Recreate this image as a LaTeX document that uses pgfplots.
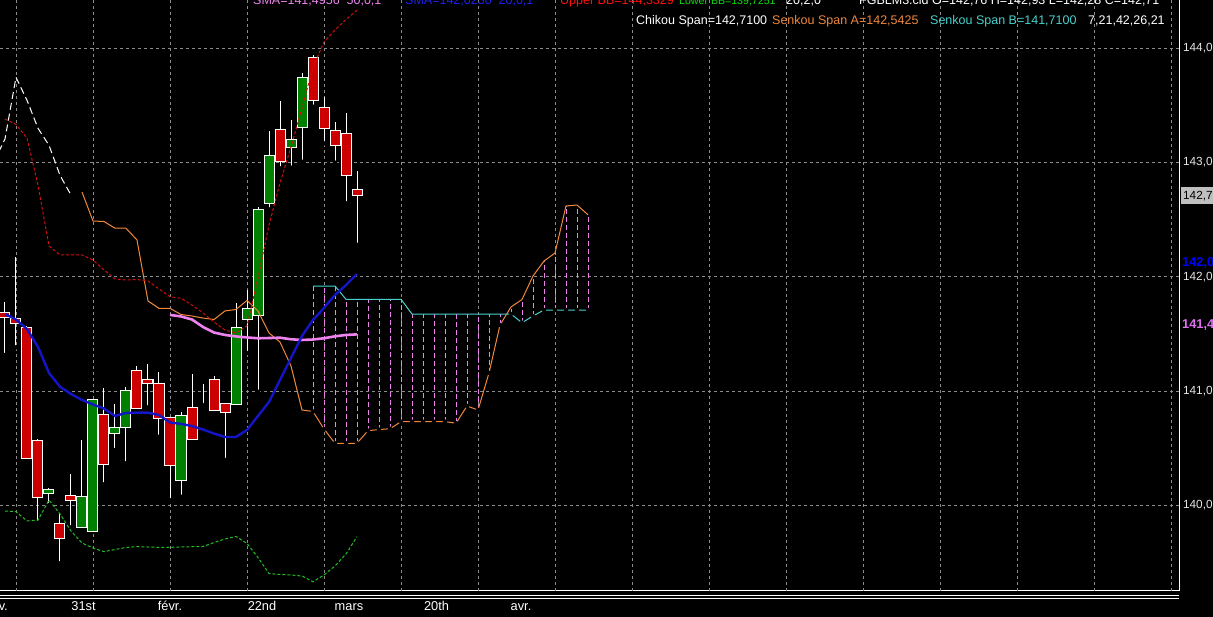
\documentclass[border=0pt]{standalone}
\usepackage{fontspec}
\setmainfont{Liberation Sans}
\usepackage{pgfplots}
\usepackage{pgfplotstable}
\pgfplotsset{compat=1.18}

\definecolor{cred}{HTML}{CC0000}
\definecolor{cgreen}{HTML}{008000}
\definecolor{smablue}{HTML}{1414C8}
\definecolor{smaviolet}{HTML}{EE82EE}
\definecolor{bbred}{HTML}{D01010}
\definecolor{bbgreen}{HTML}{20C020}
\definecolor{spana}{HTML}{F0883C}
\definecolor{spanb}{HTML}{48D1CC}
\definecolor{gridgray}{HTML}{8C8C8C}
\definecolor{ticktext}{HTML}{E6E6E6}
\definecolor{txtblue}{HTML}{2020F0}
\definecolor{txtred}{HTML}{FF1010}
\definecolor{txtgreen}{HTML}{10E010}
\definecolor{flagviolet}{HTML}{E070F0}

% daily candles, index 0..32
\pgfplotstableread{
i o h l c
0 141.686 141.782 141.316 141.642
1 141.631 142.176 141.383 141.587
2 141.558 141.565 140.405 140.411
3 140.565 140.580 139.848 140.070
4 140.105 140.149 140.003 140.134
5 139.842 139.921 139.492 139.711
6 140.084 140.274 139.807 140.038
7 139.807 140.572 139.807 140.075
8 139.769 140.930 139.769 140.928
9 140.797 141.029 140.184 140.359
10 140.630 140.887 140.484 140.679
11 140.683 141.038 140.368 141.009
12 141.184 141.219 140.849 140.849
13 141.097 141.237 140.858 141.068
14 141.068 141.169 140.600 140.761
15 140.770 140.770 140.046 140.344
16 140.215 140.819 140.075 140.790
17 140.858 141.147 140.557 140.578
18 140.928 141.062 140.878 140.928
19 141.097 141.132 140.819 140.834
20 140.893 140.893 140.397 140.814
21 140.884 141.768 140.884 141.554
22 141.622 141.884 141.333 141.724
23 141.660 142.614 140.994 142.585
24 142.643 143.279 142.591 143.066
25 143.285 143.539 142.950 143.007
26 143.133 143.372 142.955 143.206
27 143.309 143.786 143.007 143.746
28 143.921 143.941 143.489 143.545
29 143.484 143.571 143.168 143.300
30 143.282 143.358 142.999 143.151
31 143.256 143.436 142.643 142.888
32 142.760 142.930 142.280 142.710
}\candles

% SMA 20 and Bollinger bands
\pgfplotstableread{
i sma ub lb
0 141.674 143.381 139.950
1 141.626 143.333 139.944
2 141.543 143.215 139.863
3 141.386 142.803 139.871
4 141.158 142.270 140.046
5 141.038 142.191 139.924
6 140.974 142.191 139.775
7 140.922 142.191 139.670
8 140.882 142.147 139.626
9 140.847 142.060 139.594
10 140.782 141.981 139.613
11 140.808 141.972 139.631
12 140.811 141.976 139.638
13 140.811 141.963 139.635
14 140.790 141.893 139.632
15 140.725 141.826 139.632
16 140.712 141.812 139.635
17 140.694 141.753 139.638
18 140.663 141.683 139.639
19 140.628 141.604 139.674
20 140.598 141.534 139.705
21 140.598 141.508 139.727
22 140.659 141.571 139.666
23 140.782 141.990 139.543
24 140.904 142.453 139.403
25 141.097 142.821 139.394
26 141.289 143.136 139.390
27 141.482 143.477 139.381
28 141.622 143.836 139.331
29 141.727 144.055 139.390
30 141.841 144.160 139.469
31 141.928 144.252 139.574
32 142.024 144.333 139.725
}\ind

\pgfplotstableread{
i sma
15 141.666
16 141.653
17 141.626
18 141.561
19 141.512
20 141.491
21 141.478
22 141.469
23 141.462
24 141.464
25 141.467
26 141.453
27 141.447
28 141.451
29 141.462
30 141.479
31 141.491
32 141.496
}\smafifty

% senkou span A before the cloud
\pgfplotstableread{
i a
7 142.742
8 142.488
9 142.484
10 142.425
11 142.425
12 142.322
13 141.788
14 141.724
15 141.724
16 141.670
17 141.657
18 141.639
19 141.626
20 141.701
21 141.714
22 141.793
23 141.701
24 141.508
25 141.429
26 141.219
27 140.834
28 140.821
}\spanA

% cloud: senkou A and B, index 28..53
\pgfplotstableread{
i a b
28 140.821 141.919
29 140.668 141.919
30 140.543 141.919
31 140.543 141.803
32 140.543 141.803
33 140.653 141.803
34 140.663 141.803
35 140.670 141.803
36 140.732 141.803
37 140.732 141.674
38 140.732 141.674
39 140.732 141.674
40 140.732 141.674
41 140.718 141.674
42 140.869 141.674
43 140.834 141.674
44 141.158 141.674
45 141.578 141.674
46 141.736 141.674
47 141.801 141.598
48 142.007 141.657
49 142.138 141.709
50 142.208 141.709
51 142.620 141.709
52 142.628 141.709
53 142.543 141.709
}\cloud

\pgfplotstableread{
i c
-1 143.007
0 143.206
1 143.746
2 143.545
3 143.300
4 143.151
5 142.888
6 142.716
}\chikou

\pgfplotsset{
  base/.style={
    at={(0pt,26.3pt)}, anchor=south west, scale only axis,
    width=1179.3pt, height=590.7pt,
    xmin=-0.4545, xmax=106.755, ymin=139.2525, ymax=144.4228,
  },
}

\begin{document}
\begin{tikzpicture}
\useasboundingbox (0,0) rectangle (1213pt,617pt);
\clip (0,0) rectangle (1213pt,617pt);
\fill[black] (0,0) rectangle (1213pt,617pt);

% grid, ticks and wicks
\begin{axis}[base,
  axis x line*=bottom, axis y line*=right,
  axis line style={white, line width=1pt, -},
  major tick length=0pt,
  ymajorgrids=true,
  grid style={gridgray, dash pattern=on 3pt off 3pt, line width=0.8pt},
  ytick={140,141,142,143,144},
  yticklabel style={anchor=west, inner sep=0pt, xshift=3.6pt, text=ticktext,
    font=\fontsize{11.8}{13}\selectfont,
    /pgf/number format/.cd, fixed, fixed zerofill, precision=1, use comma, assume math mode=true},
  xtick={7.136,15,23.364,31.27,39.23,46.91},
  xticklabels={31st,févr.,22nd,mars,20th,avr.},
  xticklabel style={anchor=base, inner sep=0pt, yshift=-20.3pt, text=white,
    font=\fontsize{12.8}{14}\selectfont},
  extra x ticks={1,8,...,106},
  extra x tick style={grid=major, xticklabel={}},
]
\addplot[only marks, mark=none, error bars/.cd, y dir=plus, y explicit, error mark=none,
  error bar style={draw=white, line width=1pt, solid}]
  table[x=i, y=l, y error expr=\thisrow{h}-\thisrow{l}] \candles;
\end{axis}

% candle bodies
\begin{axis}[base, hide axis, ybar stacked, bar width=10pt]
\addplot[draw=none, fill=none] table[x=i, y expr={min(\thisrow{o},\thisrow{c})}] \candles;
\addplot[draw=white, fill=cgreen, line width=1pt] table[x=i, y expr={max(\thisrow{c}-\thisrow{o},0)}] \candles;
\addplot[draw=white, fill=cred, line width=1pt] table[x=i, y expr={max(\thisrow{o}-\thisrow{c},0)}] \candles;
\end{axis}

% indicators
\begin{axis}[base, hide axis]
\addplot[only marks, mark=none, error bars/.cd, y dir=plus, y explicit, error mark=none,
  error bar style={draw=smaviolet, line width=1pt, dash pattern=on 5pt off 3pt}]
  table[x=i, y expr={min(\thisrow{a},\thisrow{b})}, y error expr={abs(\thisrow{a}-\thisrow{b})}] \cloud;
\addplot[spana, line width=1pt] table[x=i, y=a] \spanA;
\addplot[spana, line width=1pt] table[x=i, y=a] \cloud;
\addplot[spanb, line width=1pt] table[x=i, y=b] \cloud;
\addplot[bbred, line width=1pt, dash pattern=on 3pt off 2pt] table[x=i, y=ub] \ind;
\addplot[bbgreen, line width=1pt, dash pattern=on 3pt off 2pt] table[x=i, y=lb] \ind;
\addplot[white, line width=1pt, dash pattern=on 7pt off 4pt] table[x=i, y=c] \chikou;
\addplot[smaviolet, line width=2.6pt] table[x=i, y=sma] \smafifty;
\addplot[smablue, line width=2.4pt] table[x=i, y=sma] \ind;
\end{axis}

% bottom double rule
\draw[white, line width=1pt] (0,21pt) -- (1179.3pt,21pt);
\draw[white, line width=1pt] (0,18pt) -- (1179.3pt,18pt);
\node[anchor=base east, inner sep=0pt, text=white, font=\fontsize{12.8}{14}\selectfont] at (8pt,6pt) {janv.};

% price flags on the right
\node[anchor=west, inner sep=0pt, fill=lightgray, text=black, minimum height=17pt,
  font=\fontsize{11.8}{13}\selectfont] at (1181pt,421pt) {\,142,7};
\node[anchor=west, inner sep=0pt, text=blue, font=\bfseries\fontsize{12.8}{14}\selectfont] at (1182pt,354pt) {142,0};
\node[anchor=west, inner sep=0pt, text=flagviolet, font=\bfseries\fontsize{12.8}{14}\selectfont] at (1182pt,292pt) {141,4};

% legend rows
\begin{scope}[every node/.style={anchor=base west, inner sep=0pt, font=\fontsize{12.5}{14}\selectfont}]
\node[text=smaviolet] at (253pt,612pt) {SMA=141,4956\ \ 50,0,1};
\node[text=txtblue] at (405pt,612pt) {SMA=142,0230\ \ 20,0,1};
\node[text=txtred] at (560pt,612pt) {Upper BB=144,3329};
\node[text=txtgreen, font=\fontsize{10.6}{12}\selectfont] at (679pt,612pt) {Lower BB=139,7251};
\node[text=white] at (786pt,612pt) {20,2,0};
\node[text=white] at (859pt,612pt) {FGBLM3.cld O=142,76 H=142,93 L=142,28 C=142,71};
\node[text=white] at (636pt,592pt) {Chikou Span=142,7100};
\node[text=spana] at (772pt,592pt) {Senkou Span A=142,5425};
\node[text=spanb] at (930pt,592pt) {Senkou Span B=141,7100};
\node[text=white] at (1088pt,592pt) {7,21,42,26,21};
\end{scope}
\end{tikzpicture}
\end{document}
